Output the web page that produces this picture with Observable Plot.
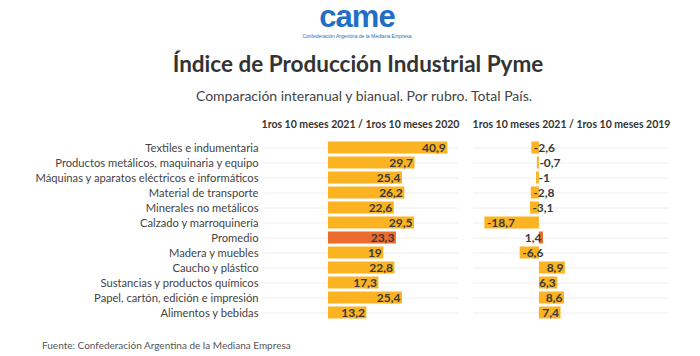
<!DOCTYPE html>
<html><head><meta charset="utf-8">
<script src="https://cdn.jsdelivr.net/npm/d3@7"></script>
<script src="https://cdn.jsdelivr.net/npm/@observablehq/plot@0.6"></script>
<style>
body{margin:0;background:#fff;font-family:Lato,"Open Sans",sans-serif;}
#wrap{position:relative;width:700px;height:356px;overflow:hidden;}
.abs{position:absolute;left:0;width:700px;text-align:center;white-space:nowrap;}
#logo{top:1px;left:7px;font-family:"Liberation Sans",Arial,sans-serif;font-weight:bold;font-size:31px;line-height:31px;color:#1f6fc4;letter-spacing:-1px;}
#logosub{top:33px;left:7px;font-size:5px;line-height:6px;color:#1f6fc4;font-family:"Liberation Sans",Arial,sans-serif;}
#title{top:50px;left:8px;font-size:22.5px;font-weight:bold;color:#333;line-height:28px;}
#subtitle{top:87px;left:14px;font-size:14px;color:#444;line-height:18px;}
#chart{position:absolute;top:110px;left:0;}
#footer{position:absolute;left:42px;top:339px;font-size:10px;color:#555;}
#chart svg g[aria-label^="fx-axis"] text{font-weight:bold;fill:#333;font-size:10.5px;}
#chart svg g[aria-label^="y-axis"] text{fill:#444;font-size:11.2px;}
</style></head>
<body><div id="wrap">
<div id="logo" class="abs">came</div>
<div id="logosub" class="abs">Confederación Argentina de la Mediana Empresa</div>
<div id="title" class="abs">Índice de Producción Industrial Pyme</div>
<div id="subtitle" class="abs">Comparación interanual y bianual. Por rubro. Total País.</div>
<div id="chart"></div>
<div id="footer">Fuente: Confederación Argentina de la Mediana Empresa</div>
</div>
<script>
const categories = ["Textiles e indumentaria","Productos metálicos, maquinaria y equipo","Máquinas y aparatos eléctricos e informáticos","Material de transporte","Minerales no metálicos","Calzado y marroquinería","Promedio","Madera y muebles","Caucho y plástico","Sustancias y productos químicos","Papel, cartón, edición e impresión","Alimentos y bebidas"];
const vs2020 = [40.9,29.7,25.4,26.2,22.6,29.5,23.3,19,22.8,17.3,25.4,13.2];
const vs2019 = [-2.6,-0.7,-1,-2.8,-3.1,-18.7,1.4,-6.6,8.9,6.3,8.6,7.4];
const panels = ["1ros 10 meses 2021 / 1ros 10 meses 2020","1ros 10 meses 2021 / 1ros 10 meses 2019"];

const data = [];
categories.forEach((c,i)=>{
  data.push({panel:panels[0],cat:c,value:vs2020[i]});
  data.push({panel:panels[1],cat:c,value:vs2019[i]});
});
const fmt = v => String(v).replace(".", ",");
const col = d => d.cat === "Promedio" ? "#ee6b2e" : "#fbb321";

const chart = Plot.plot({
  width:700, height:215,
  marginLeft:262, marginRight:30, marginTop:30, marginBottom:5,
  style:{fontFamily:"Lato, 'Open Sans', sans-serif", fontSize:"11px", background:"transparent"},
  facet:{data, x:"panel"},
  fx:{domain:panels, axis:"top", label:null, tickSize:0, tickPadding:13, paddingInner:0.07, paddingOuter:0},
  x:{domain:[-22.6,44.6], axis:null},
  y:{domain:categories, label:null, tickSize:0, tickPadding:4, padding:0},
  marks:[
    Plot.ruleY(data,{y:"cat", stroke:"#eee", strokeWidth:1}),
    Plot.barX(data,{x:"value", y:"cat", fill:col, insetTop:1.5, insetBottom:1.5}),
    Plot.text(data,{filter:d=>d.value>=0, x:"value", y:"cat", text:d=>fmt(d.value), textAnchor:"end", dx:-2, fill:"#3a3a3a", fontWeight:"bold", fontSize:12}),
    Plot.text(data,{filter:d=>d.value<0, x:"value", y:"cat", text:d=>fmt(d.value), textAnchor:"start", dx:2, fill:"#3a3a3a", fontWeight:"bold", fontSize:12})
  ]
});
document.getElementById("chart").appendChild(chart);
</script>
</body></html>
